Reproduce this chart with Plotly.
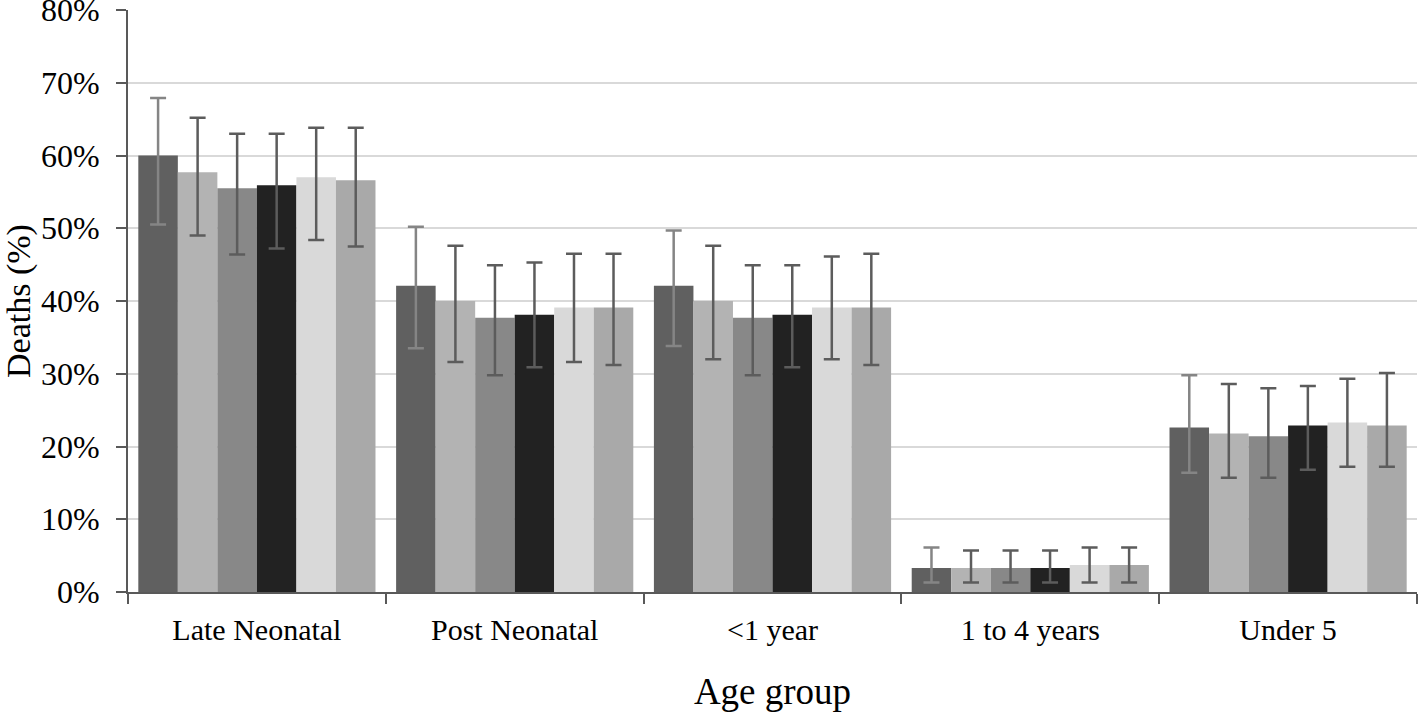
import plotly.graph_objects as go

categories = ["Late Neonatal", "Post Neonatal", "<1 year", "1 to 4 years", "Under 5"]

# bar values (%) for six unlabelled series
s1 = [60.0, 42.1, 42.1, 3.3, 22.6]
s2 = [57.7, 40.0, 40.0, 3.3, 21.8]
s3 = [55.5, 37.7, 37.7, 3.3, 21.4]
s4 = [55.9, 38.1, 38.1, 3.3, 22.9]
s5 = [57.0, 39.1, 39.1, 3.7, 23.3]
s6 = [56.6, 39.1, 39.1, 3.7, 22.9]

# upper / lower confidence limits (%)
s1_hi = [67.9, 50.2, 49.7, 6.1, 29.8]
s1_lo = [50.5, 33.5, 33.8, 1.3, 16.4]
s2_hi = [65.2, 47.6, 47.6, 5.7, 28.6]
s2_lo = [49.0, 31.6, 32.0, 1.3, 15.7]
s3_hi = [63.0, 44.9, 44.9, 5.7, 28.0]
s3_lo = [46.4, 29.8, 29.8, 1.3, 15.7]
s4_hi = [63.0, 45.3, 44.9, 5.7, 28.3]
s4_lo = [47.2, 30.9, 30.9, 1.3, 16.8]
s5_hi = [63.8, 46.5, 46.1, 6.1, 29.3]
s5_lo = [48.4, 31.6, 32.0, 1.3, 17.2]
s6_hi = [63.8, 46.5, 46.5, 6.1, 30.1]
s6_lo = [47.5, 31.2, 31.2, 1.3, 17.2]

y_ticks = [0, 10, 20, 30, 40, 50, 60, 70, 80]
y_tick_labels = ["0%", "10%", "20%", "30%", "40%", "50%", "60%", "70%", "80%"]

series = [
    (s1, s1_hi, s1_lo, "#606060", "#858585"),
    (s2, s2_hi, s2_lo, "#b3b3b3", "#5c5c5c"),
    (s3, s3_hi, s3_lo, "#888888", "#5c5c5c"),
    (s4, s4_hi, s4_lo, "#222222", "#5c5c5c"),
    (s5, s5_hi, s5_lo, "#d9d9d9", "#5c5c5c"),
    (s6, s6_hi, s6_lo, "#a9a9a9", "#5c5c5c"),
]

fig = go.Figure()
for i, (vals, hi, lo, col, ecol) in enumerate(series):
    fig.add_trace(go.Bar(
        x=categories, y=vals, name=f"Series {i+1}",
        marker=dict(color=col, line=dict(width=0)),
        error_y=dict(type="data", symmetric=False,
                     array=[h - v for h, v in zip(hi, vals)],
                     arrayminus=[v - l for v, l in zip(vals, lo)],
                     color=ecol, thickness=2.5, width=8),
        showlegend=False,
    ))

font_family = "Liberation Serif, Times New Roman, serif"
fig.update_layout(
    width=1419, height=715,
    margin=dict(l=128, r=2, t=10, b=123),
    plot_bgcolor="white", paper_bgcolor="white",
    barmode="group", bargap=0.08, bargroupgap=0,
    font=dict(family=font_family, color="black"),
)
fig.update_yaxes(
    range=[0, 80], tickmode="array", tickvals=y_ticks, ticktext=y_tick_labels,
    showgrid=True, gridcolor="#d9d9d9", gridwidth=2,
    showline=True, linecolor="#595959", linewidth=2,
    ticks="outside", ticklen=10, tickwidth=2, tickcolor="#595959",
    tickfont=dict(size=32, family=font_family, color="black"),
    ticklabeloverflow="allow", ticklabelstandoff=10,
    zeroline=False, automargin=False,
)
fig.add_annotation(
    text="Deaths (%)", textangle=-90,
    xref="paper", yref="paper", x=0, y=0.5,
    xanchor="center", yanchor="middle", xshift=-109,
    showarrow=False, font=dict(size=34, family=font_family, color="black"),
)
fig.update_xaxes(
    showline=True, linecolor="#595959", linewidth=2,
    ticks="outside", ticklen=10, tickwidth=2, tickcolor="#595959",
    tickson="boundaries", ticklabelstandoff=10,
    tickfont=dict(size=30, family=font_family, color="black"),
    title=dict(text="Age group", font=dict(size=37, family=font_family), standoff=33),
    automargin=False,
)

fig.write_html("out.html", config={"displayModeBar": False},
               post_script="document.body.style.margin='0px';")
